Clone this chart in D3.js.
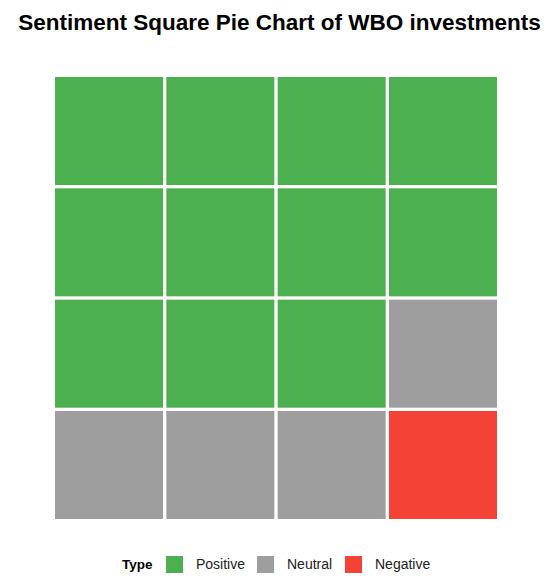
<!DOCTYPE html>
<html><head><meta charset="utf-8">
<script src="https://cdn.jsdelivr.net/npm/d3@7"></script>
<style>body{margin:0;background:#fff;font-family:"Liberation Sans",Arial,sans-serif;}</style>
</head><body>
<svg id="c" width="550" height="580"></svg>
<script>
const categories = ["Positive", "Neutral", "Negative"];
const counts = [11, 4, 1];
const colors = ["#4CAF50", "#9E9E9E", "#F44336"];
const nRows = 4, nCols = 4;
const title = "Sentiment Square Pie Chart of WBO investments";
const legendTitle = "Type";

const svg = d3.select("#c");
const cells = [];
categories.forEach((c, i) => { for (let k = 0; k < counts[i]; k++) cells.push(c); });
const data = cells.map((c, idx) => ({ cat: c, row: Math.floor(idx / nCols), col: idx % nCols }));

const gap = 3.3;
const x = d3.scaleBand().domain(d3.range(nCols)).range([55, 497 + gap]).paddingInner(0).paddingOuter(0);
const y = d3.scaleBand().domain(d3.range(nRows)).range([77, 519 + gap]);
const color = d3.scaleOrdinal().domain(categories).range(colors);

svg.append("text").attr("x", 279.5).attr("y", 30).attr("text-anchor", "middle")
  .attr("font-size", 22.5).attr("font-weight", "bold").attr("fill", "#000").text(title);

svg.append("g").selectAll("rect").data(data).join("rect")
  .attr("x", d => x(d.col)).attr("y", d => y(d.row))
  .attr("width", x.bandwidth() - gap).attr("height", y.bandwidth() - gap)
  .attr("fill", d => color(d.cat));

const lg = svg.append("g");
lg.append("text").attr("x", 122).attr("y", 569).attr("font-size", 13.5).attr("font-weight", "bold").text(legendTitle);
const sqX = [166, 257, 345];
categories.forEach((c, i) => {
  lg.append("rect").attr("x", sqX[i]).attr("y", 556).attr("width", 17).attr("height", 17).attr("fill", colors[i]);
  lg.append("text").attr("x", sqX[i] + 30).attr("y", 569).attr("font-size", 14).attr("fill", "#222").text(c);
});
</script>
</body></html>
